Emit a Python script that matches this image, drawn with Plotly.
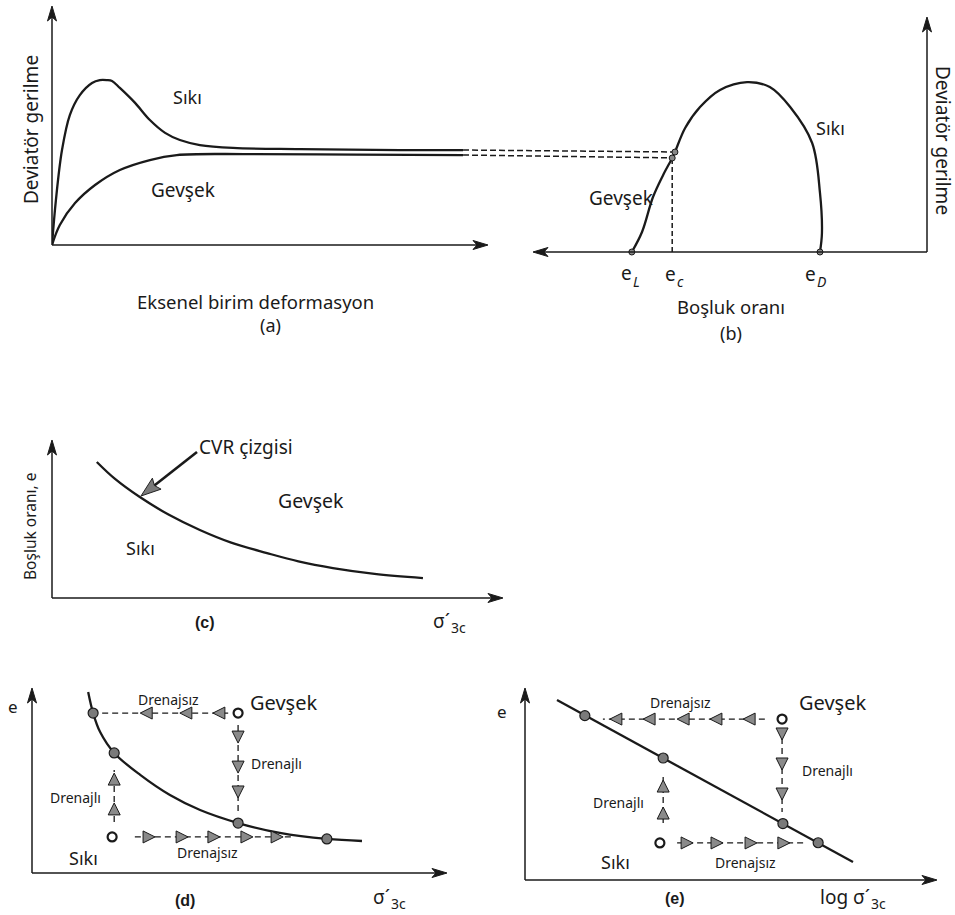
import math
import plotly.graph_objects as go

W, H = 955, 915

# ---------------- data (schematic units 0-100 per panel) ----------------
# (a) deviator stress vs axial strain
a_dense_x = [0, 0.9, 2.3, 4.1, 6.4, 9.2, 11.0, 12.6, 13.8, 15.6, 19.1, 22.5, 26.0, 29.4, 34.0, 41.6, 57.0, 80.0, 94.5]
a_dense_y = [0, 18.9, 39.9, 54.6, 63.0, 68.1, 69.3, 69.3, 68.9, 66.0, 59.7, 52.5, 47.1, 44.1, 42.0, 40.8, 40.3, 39.9, 39.9]
a_loose_x = [0, 1.8, 5.3, 9.9, 15.6, 22.5, 28.7, 45.0, 70.0, 94.5]
a_loose_y = [0, 8.4, 17.6, 25.2, 31.5, 35.7, 37.8, 38.2, 38.0, 37.8]
a_link_dense_x = [94.5, 143.0]
a_link_dense_y = [39.9, 39.1]
a_link_loose_x = [94.5, 142.5]
a_link_loose_y = [37.8, 36.6]

# (b) deviator stress vs void ratio (void ratio increases to the left)
b_e = [75.3, 72.7, 69.9, 67.3, 65.0, 64.3, 61.7, 57.9, 52.8, 45.9, 40.1, 34.9, 29.3, 27.3, 26.8, 27.3]
b_q = [0, 8.4, 23.1, 32.4, 39.5, 42.0, 52.1, 60.9, 68.1, 71.4, 69.3, 60.9, 45.8, 24.8, 8.0, 0]
b_pts_e = [75.3, 65.0, 64.3, 27.3]
b_pts_q = [0, 39.5, 42.0, 0]
b_ec_e = [65.0, 65.0]
b_ec_q = [0, 39.5]

# (c) CVR line
c_s = [10.0, 14.0, 19.6, 26.0, 33.0, 40.0, 48.0, 55.0, 62.7, 72.0, 82.8]
c_e = [87.2, 76.5, 64.7, 53.5, 43.6, 35.5, 28.8, 23.5, 19.2, 15.5, 12.8]

# (d) e vs sigma'3c
d_s = [13.6, 14.8, 16.5, 19.9, 26.2, 33.4, 40.7, 49.9, 60.0, 71.4, 79.9]
d_e = [98.9, 87.4, 77.0, 65.6, 53.6, 42.6, 34.4, 27.3, 21.9, 18.6, 17.5]
d_dot_s = [14.8, 19.9, 49.9, 71.4]
d_dot_e = [87.4, 65.6, 27.3, 18.6]
d_open_s = [49.9, 19.4]
d_open_e = [87.4, 19.7]

# (e) e vs log sigma'3c
e_s = [7.8, 80.0]
e_e = [94.7, 9.5]
e_dot_s = [14.6, 33.7, 62.9, 71.5]
e_dot_e = [86.5, 64.2, 29.7, 19.6]
e_open_s = [62.7, 32.9]
e_open_e = [84.7, 19.5]

# dashed stress paths: (line x, line y, arrow x, arrow y, direction)
d_paths = [
    ([47.5, 16.5], [87.4, 87.4], [26.2, 35.8, 43.8], [87.4, 87.4, 87.4], "left"),
    ([49.9, 49.9], [80.9, 31.7], [49.9, 49.9, 49.9], [71.0, 54.6, 41.0], "down"),
    ([19.9, 19.9], [27.9, 56.3], [19.9, 19.9], [54.6, 38.3], "up"),
    ([24.9, 63.2], [19.7, 19.7], [29.8, 37.8, 45.5, 53.5, 60.8], [19.7] * 5, "right"),
]
e_paths = [
    ([58.5, 19.0], [84.7, 84.7], [20.7, 28.8, 37.1, 45.1, 53.2], [84.7] * 5, "left"),
    ([62.7, 62.7], [80.0, 35.8], [62.7, 62.7, 62.7], [73.7, 57.9, 42.1], "down"),
    ([33.7, 33.7], [30.0, 54.2], [33.7, 33.7], [52.6, 38.4], "up"),
    ([37.1, 68.3], [19.5, 19.5], [41.0, 48.3, 56.6, 64.6], [19.5] * 4, "right"),
]

# ---------------- figure ----------------
INK = "#1a1a1a"
FONT = "Noto Sans"
fig = go.Figure()


def curve(x, y, ax, dash=None, width=2.3, shape="spline"):
    fig.add_trace(go.Scatter(x=x, y=y, xaxis="x" + ax, yaxis="y" + ax, mode="lines",
                             line=dict(color=INK, width=width, dash=dash, shape=shape, smoothing=1.0),
                             hoverinfo="skip", showlegend=False))


def dots(x, y, ax, size=10, fill="#7a7a7a", lw=1.2):
    fig.add_trace(go.Scatter(x=x, y=y, xaxis="x" + ax, yaxis="y" + ax, mode="markers",
                             marker=dict(size=size, color=fill, line=dict(color=INK, width=lw)),
                             hoverinfo="skip", showlegend=False, cliponaxis=False))


def paths(lst, ax):
    for lx, ly, mx, my, d in lst:
        fig.add_trace(go.Scatter(x=lx, y=ly, xaxis="x" + ax, yaxis="y" + ax, mode="lines",
                                 line=dict(color=INK, width=1.3, dash="6px,4px"),
                                 hoverinfo="skip", showlegend=False))
        fig.add_trace(go.Scatter(x=mx, y=my, xaxis="x" + ax, yaxis="y" + ax, mode="markers",
                                 marker=dict(symbol="arrow-" + d, size=12, color="#8a8a8a",
                                             line=dict(color=INK, width=1)),
                                 hoverinfo="skip", showlegend=False, cliponaxis=False))


# panel a (axis "" -> x / y)
curve(a_dense_x, a_dense_y, "")
curve(a_loose_x, a_loose_y, "")
curve(a_link_dense_x, a_link_dense_y, "", dash="6px,3px", width=1.5, shape="linear")
curve(a_link_loose_x, a_link_loose_y, "", dash="6px,3px", width=1.5, shape="linear")
# panel b
curve(b_e, b_q, "2")
curve(b_ec_e, b_ec_q, "2", dash="5px,3px", width=1.5, shape="linear")
dots(b_pts_e, b_pts_q, "2", size=6, fill="#888888", lw=1)
# panel c
curve(c_s, c_e, "3")
# panel d
curve(d_s, d_e, "4")
paths(d_paths, "4")
dots(d_dot_s, d_dot_e, "4")
dots(d_open_s, d_open_e, "4", size=9, fill="white", lw=2.2)
# panel e
curve(e_s, e_e, "5", shape="linear")
paths(e_paths, "5")
dots(e_dot_s, e_dot_e, "5")
dots(e_open_s, e_open_e, "5", size=9, fill="white", lw=2.2)


def dom_x(a, b):
    return [a / W, b / W]


def dom_y(bottom, top):
    return [1 - bottom / H, 1 - top / H]


def axcfg(domain, rng, anchor):
    return dict(domain=domain, range=rng, visible=False, fixedrange=True, anchor=anchor)


layout_axes = dict(
    xaxis=axcfg(dom_x(52, 674), [0, 143], "y"), yaxis=axcfg(dom_y(245, 7), [0, 100], "x"),
    xaxis2=axcfg(dom_x(535, 927), [100, 0], "y2"), yaxis2=axcfg(dom_y(252, 14), [0, 100], "x2"),
    xaxis3=axcfg(dom_x(52, 500), [0, 100], "y3"), yaxis3=axcfg(dom_y(598, 442), [0, 100], "x3"),
    xaxis4=axcfg(dom_x(32, 445), [0, 100], "y4"), yaxis4=axcfg(dom_y(873, 690), [0, 100], "x4"),
    xaxis5=axcfg(dom_x(525, 935), [0, 100], "y5"), yaxis5=axcfg(dom_y(880, 690), [0, 100], "x5"),
)

shapes = []


def P(x, y):
    return "%.5f,%.5f" % (x / W, 1 - y / H)


def arrow(tailx, taily, tipx, tipy, lw=1.5, head_len=15, head_w=4.5, notch=4,
          fill=INK, outline=INK):
    dx, dy = tipx - tailx, tipy - taily
    n = math.hypot(dx, dy)
    ux, uy = dx / n, dy / n
    px_, py_ = -uy, ux
    bx, by = tipx - ux * head_len, tipy - uy * head_len
    nx, ny = tipx - ux * (head_len - notch), tipy - uy * (head_len - notch)
    shapes.append(dict(type="line", xref="paper", yref="paper",
                       x0=tailx / W, y0=1 - taily / H, x1=nx / W, y1=1 - ny / H,
                       line=dict(color=INK, width=lw)))
    path = "M" + P(tipx, tipy) + " L" + P(bx + px_ * head_w, by + py_ * head_w) + \
           " L" + P(nx, ny) + " L" + P(bx - px_ * head_w, by - py_ * head_w) + " Z"
    shapes.append(dict(type="path", xref="paper", yref="paper", path=path,
                       fillcolor=fill, line=dict(color=outline, width=1)))


# axes (tail at origin, tip at arrow end)
arrow(52, 245, 52, 6); arrow(52, 245, 488, 245)
arrow(927, 252, 927, 17); arrow(927, 252, 533, 252)
arrow(52, 598, 52, 440); arrow(52, 598, 503, 598)
arrow(32, 873, 32, 688); arrow(32, 873, 447, 873)
arrow(525, 880, 525, 688); arrow(525, 880, 937, 880)
# CVR pointer
arrow(197, 452, 141, 496, lw=2.6, head_len=20, head_w=7, notch=3, fill="#7a7a7a", outline="#222222")

ann = []


def t(text, x, y, size=16, rot=0, xanchor="center", bold=False, family=FONT, italic=False):
    s = text
    if italic:
        s = "<i>" + s + "</i>"
    if bold:
        s = "<b>" + s + "</b>"
    ann.append(dict(xref="paper", yref="paper", x=x / W, y=1 - y / H, text=s, showarrow=False,
                    xanchor=xanchor, yanchor="middle", textangle=rot, borderpad=0,
                    font=dict(family=family, size=size, color=INK)))


def subbed(main, sub, xjoin, y, size=19, subsize=13, dy=6, italic_sub=False):
    t(main, xjoin, y, size, xanchor="right")
    t(sub, xjoin - 1, y + dy, subsize, xanchor="left", italic=italic_sub)


# panel a texts
t("Deviatör gerilme", 31, 130, 19, rot=-90)
t("Sıkı", 187, 97, 18)
t("Gevşek", 183, 190, 19)
t("Eksenel birim deformasyon", 255, 301, 18.5)
t("(a)", 270, 325, 18)
# panel b texts
t("Deviatör gerilme", 943, 140, 19, rot=90)
t("Sıkı", 830, 128, 18)
t("Gevşek", 621, 198, 19)
subbed("e", "L", 633, 273, 19, 14, dy=8, italic_sub=True)
subbed("e", "c", 677, 274, 19, 14, dy=8, italic_sub=True)
subbed("e", "D", 817, 274, 19, 14, dy=8, italic_sub=True)
t("Boşluk oranı", 731, 306, 18.5)
t("(b)", 731, 333, 18)
# panel c texts
t("Boşluk oranı, e", 30, 527, 15.5, rot=-90)
t("CVR çizgisi", 198, 447, 19, xanchor="left")
t("Gevşek", 311, 500, 19.5)
t("Sıkı", 140, 548, 18)
t("(c)", 205, 622, 16, bold=True, family="Liberation Sans")
subbed("σ´", "3c", 451, 621, 19, 14, dy=6)
# panel d texts
t("e", 13, 706, 17)
t("Drenajsız", 168, 699, 14)
t("Gevşek", 283, 702, 20)
t("Drenajlı", 250, 763, 14, xanchor="left")
t("Drenajlı", 75, 797, 14)
t("Sıkı", 83, 858, 18)
t("Drenajsız", 207, 852, 14)
t("(d)", 185, 900, 16, bold=True, family="Liberation Sans")
subbed("σ´", "3c", 391, 897, 19, 14, dy=6)
# panel e texts
t("e", 502, 711, 17)
t("Drenajsız", 680, 702, 14)
t("Gevşek", 832, 702, 20)
t("Drenajlı", 801, 770, 14, xanchor="left")
t("Drenajlı", 618, 802, 14)
t("Sıkı", 615, 862, 18)
t("Drenajsız", 745, 862, 14)
t("(e)", 675, 898, 16, bold=True, family="Liberation Sans")
subbed("log σ´", "3c", 871, 897, 19, 14, dy=6)

fig.update_layout(width=W, height=H, margin=dict(l=0, r=0, t=0, b=0),
                  paper_bgcolor="white", plot_bgcolor="rgba(0,0,0,0)",
                  showlegend=False, annotations=ann, shapes=shapes,
                  font=dict(family=FONT), **layout_axes)

fig.write_html("out.html")
